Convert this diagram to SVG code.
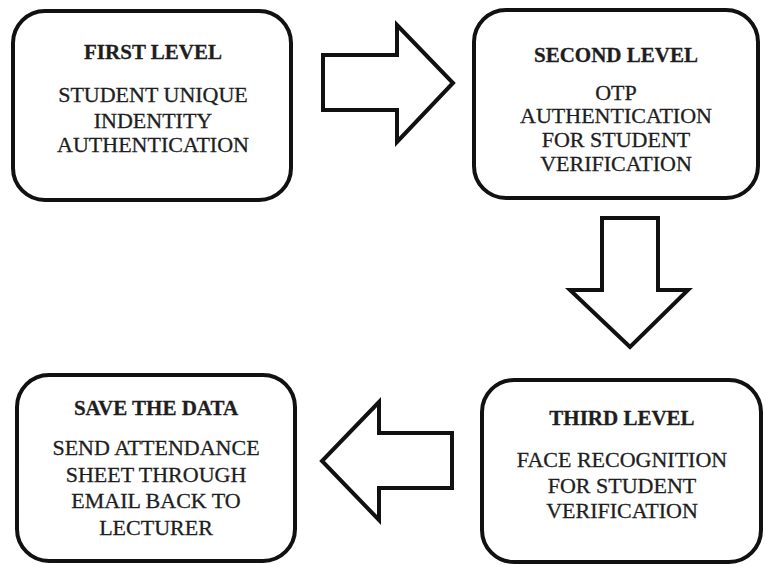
<svg xmlns="http://www.w3.org/2000/svg" width="765" height="567" viewBox="0 0 765 567">
  <style>
    .box { fill: #ffffff; stroke: #111111; stroke-width: 4; }
    .arrow { fill: #ffffff; stroke: #111111; stroke-width: 4; stroke-linejoin: miter; }
    text { font-family: "Liberation Serif", "Times New Roman", serif; fill: #1e1e1e; text-anchor: middle; font-size: 22px; stroke: #1e1e1e; stroke-width: 0.3; }
    .title { font-weight: bold; font-size: 21px; }
  </style>
  <rect width="765" height="567" fill="#ffffff"/>

  <g id="connectors">
    <!-- first level to second level -->
    <path class="arrow" d="M323,55 H397 V25 L453,83 L397,142 V110 H323 Z"/>
    <!-- second level to third level -->
    <path class="arrow" d="M602,218 H658 V290 H688 L630,347 L570,290 H602 Z"/>
    <!-- third level to save the data -->
    <path class="arrow" d="M452,433 H379 V402 L322,461 L379,520 V488 H452 Z"/>
  </g>

  <g id="first-level">
    <rect class="box" x="13" y="11" width="278" height="189" rx="32" ry="32"/>
    <text class="title" x="153" y="59">FIRST LEVEL</text>
    <text x="153" y="102">STUDENT UNIQUE</text>
    <text x="153" y="128">INDENTITY</text>
    <text x="153" y="152">AUTHENTICATION</text>
  </g>

  <g id="second-level">
    <rect class="box" x="474" y="10" width="284" height="188" rx="32" ry="32"/>
    <text class="title" x="616" y="62">SECOND LEVEL</text>
    <text x="616" y="100">OTP</text>
    <text x="616" y="123">AUTHENTICATION</text>
    <text x="616" y="147">FOR STUDENT</text>
    <text x="616" y="171">VERIFICATION</text>
  </g>

  <g id="third-level">
    <rect class="box" x="482" y="380" width="279" height="182" rx="32" ry="32"/>
    <text class="title" x="622" y="425">THIRD LEVEL</text>
    <text x="622" y="467">FACE RECOGNITION</text>
    <text x="622" y="493">FOR STUDENT</text>
    <text x="622" y="518">VERIFICATION</text>
  </g>

  <g id="save-the-data">
    <rect class="box" x="17" y="375" width="278" height="186" rx="32" ry="32"/>
    <text class="title" x="156" y="415">SAVE THE DATA</text>
    <text x="156" y="455">SEND ATTENDANCE</text>
    <text x="156" y="482">SHEET THROUGH</text>
    <text x="156" y="508">EMAIL BACK TO</text>
    <text x="156" y="535">LECTURER</text>
  </g>
</svg>
